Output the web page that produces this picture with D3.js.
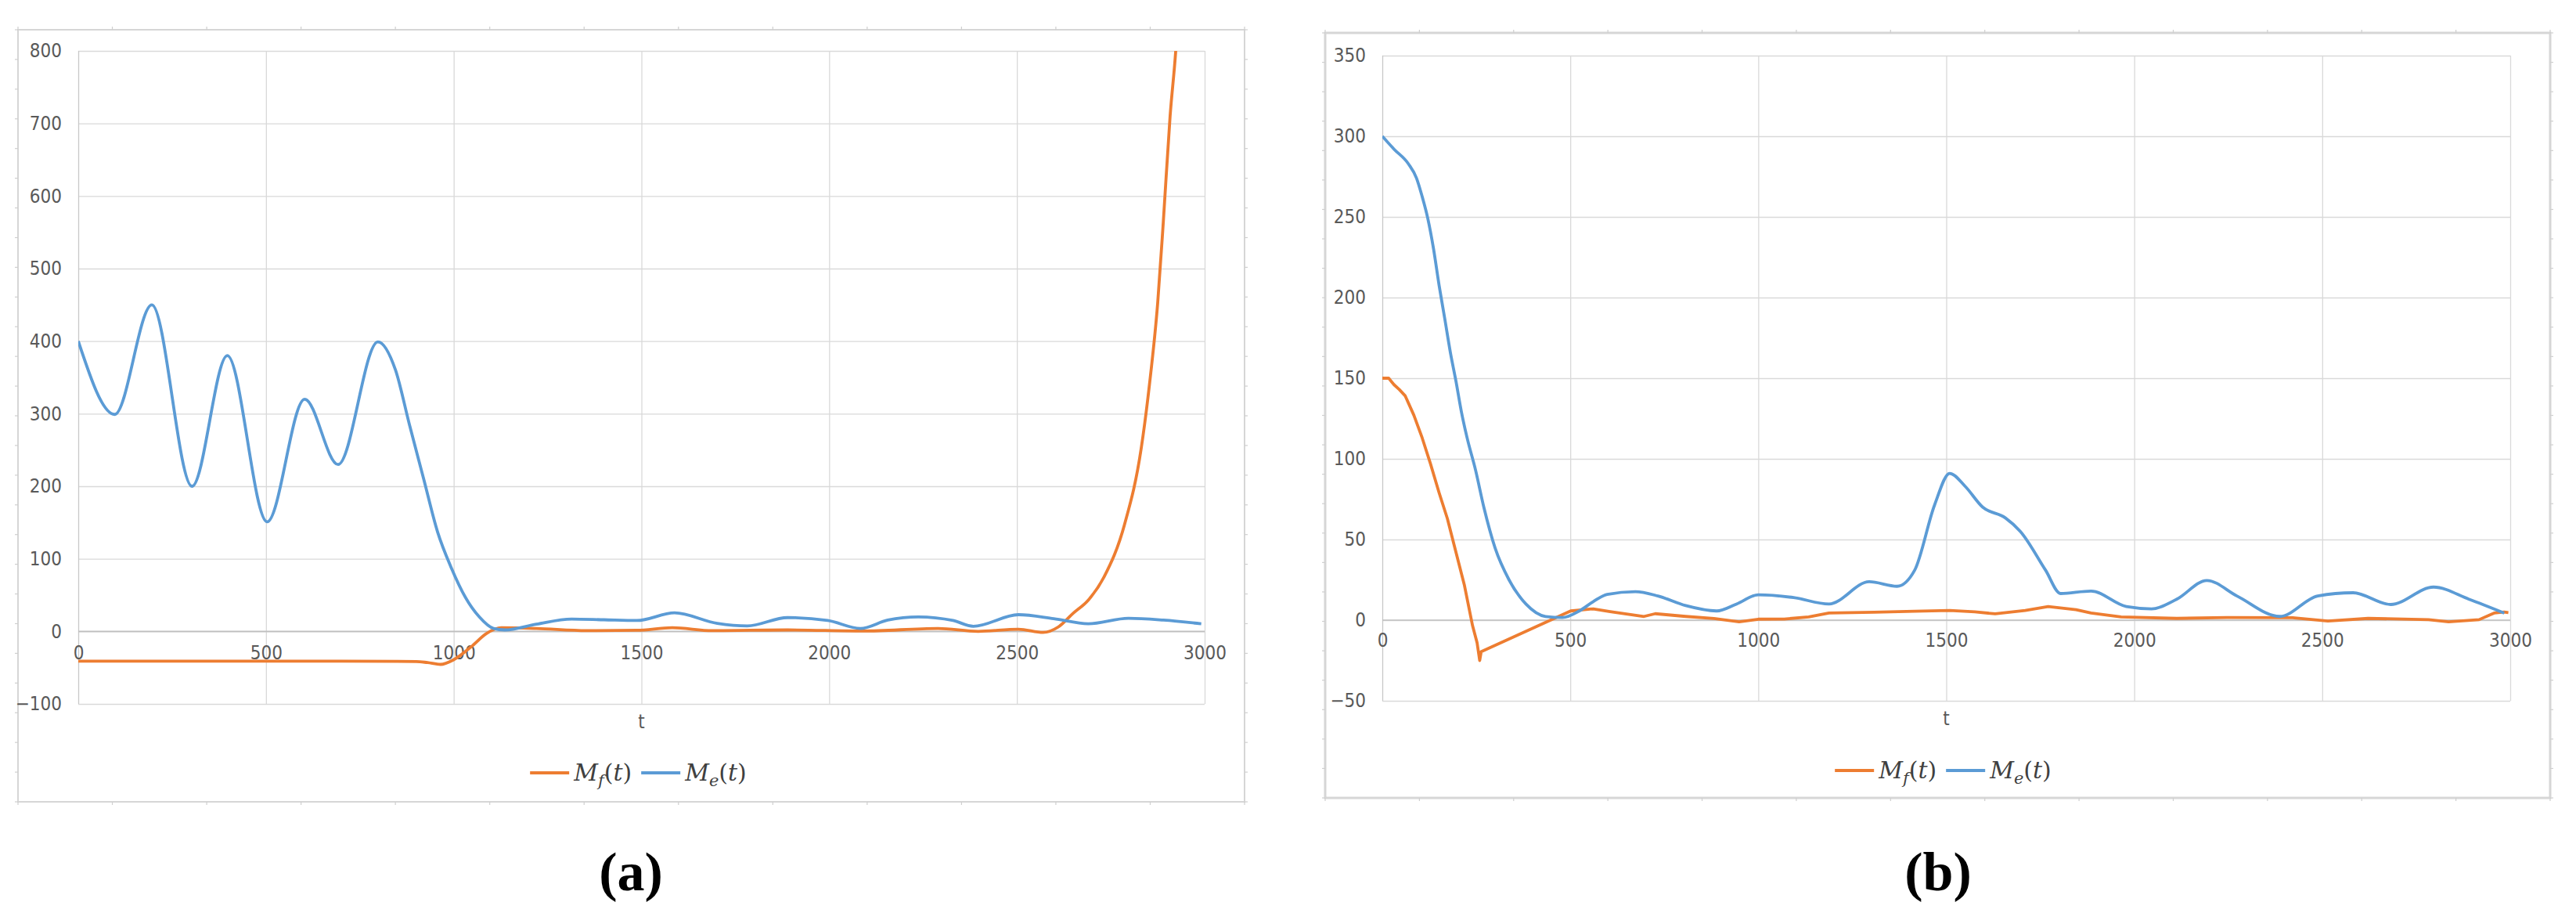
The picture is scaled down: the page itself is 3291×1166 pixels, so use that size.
<!DOCTYPE html>
<html>
<head>
<meta charset="utf-8">
<script src="https://cdn.jsdelivr.net/npm/d3@7"></script>
<style>
    body { margin: 0; background: #fff; }
    .tick-lbl text { font-family: "Liberation Sans Narrow", "DejaVu Sans Condensed", "Liberation Sans", sans-serif; font-size: 24px; fill: #595959; }
    .axis-title { font-family: "Liberation Sans Narrow", "DejaVu Sans Condensed", "Liberation Sans", sans-serif; font-size: 24px; fill: #595959; }
    .legend-txt { font-family: "DejaVu Serif", serif; font-size: 30px; fill: #404040; }
    .caption { font-family: "Liberation Serif", serif; font-weight: bold; font-size: 70px; fill: #000; }
</style>
</head>
<body>
<svg id="fig" width="3291" height="1166"></svg>
<script>
// 横轴刻度
var xTicks = [0, 500, 1000, 1500, 2000, 2500, 3000];
var aYTicks = [-100, 0, 100, 200, 300, 400, 500, 600, 700, 800];
var bYTicks = [-50, 0, 50, 100, 150, 200, 250, 300, 350];

// (a) M_f(t)
var aTimeF = [0, 300, 600, 900, 930, 965, 1000, 1047, 1087, 1127, 1220, 1354, 1488, 1582, 1689, 1889, 2090, 2290, 2397, 2504, 2570, 2610, 2650, 2690, 2732, 2787, 2831, 2853, 2875, 2890, 2908, 2923, 2935];
var aMf = [-41, -41, -41, -41.5, -43, -45.5, -39, -21, -3, 5, 4, 1, 1.5, 5, 1, 2, 0.5, 4, 0, 3, -1.5, 6, 25, 43, 75, 148, 252, 340, 453, 565, 710, 800, 900];
// (a) M_e(t)
var aTimeE = [0, 97, 196, 303, 397, 503, 603, 692, 798, 845, 882, 920, 957, 994, 1031, 1068, 1106, 1136, 1220, 1314, 1400, 1488, 1588, 1702, 1782, 1889, 1996, 2083, 2156, 2237, 2330, 2384, 2504, 2598, 2690, 2797, 2890, 2991];
var aMe = [400, 299, 450, 200, 380, 151, 320, 230, 399, 360, 285, 210, 137, 87, 47, 20, 4, 2, 10, 17, 16, 15, 25.5, 11, 7.5, 19, 15, 4, 15.5, 20, 15, 7, 23, 17.5, 10.5, 18, 15.5, 10.5];

// (b) M_f(t)
var bTimeF = [0, 17, 31, 45, 61, 84, 106, 128, 151, 173, 196, 218, 240, 252, 259, 263, 501, 561, 606, 696, 726, 807, 882, 949, 1000, 1069, 1134, 1188, 1308, 1416, 1509, 1576, 1630, 1710, 1771, 1845, 1885, 1965, 2113, 2247, 2421, 2515, 2622, 2783, 2836, 2917, 2957, 2984, 2995];
var bMf = [150, 150, 146, 143, 139, 127, 113, 97, 79, 63, 42, 22, -3.4, -14, -25, -19.5, 5.7, 7, 5.3, 2.3, 4, 2.3, 1, -1, 0.6, 0.7, 2, 4.4, 4.9, 5.5, 6, 5.2, 3.9, 6, 8.4, 6.5, 4.4, 2, 1.1, 1.6, 1.5, -0.5, 1.1, 0.3, -1, 0.3, 4.4, 5, 4.7];
// (b) M_e(t)
var bTimeE = [0, 31, 69, 91, 106, 121, 136, 151, 166, 181, 196, 210, 225, 248, 270, 300, 337, 382, 434, 479, 524, 561, 598, 673, 733, 807, 889, 942, 1000, 1094, 1188, 1295, 1369, 1416, 1469, 1509, 1550, 1597, 1657, 1697, 1764, 1804, 1885, 1979, 2046, 2113, 2193, 2273, 2387, 2488, 2582, 2682, 2796, 2890, 2984];
var bMe = [300, 292, 283, 274, 262.6, 249, 230.5, 207.6, 187, 166, 148, 129.6, 113.5, 93, 70, 44.7, 25, 10, 2.3, 1.6, 5.7, 11.5, 16, 17.7, 15, 9, 5.7, 10, 15.7, 14, 10, 23.8, 21, 31, 71.5, 91, 83, 70, 63.4, 55, 31, 16.5, 18, 8.4, 7, 13, 24.6, 15, 2.3, 15, 17, 9.7, 20.5, 13, 4.4];

var ORANGE = "#ED7D31", BLUE = "#5B9BD5";

figure = {
    init: function () {
        this.svg = d3.select("#fig");
        this.drawPanel({
            id: "a",
            frame: { left: 23, top: 38, right: 1590, bottom: 1024, width: 2 },
            plot: { left: 100, top: 65, right: 1539, bottom: 899 },
            yDomain: [-100, 800], yTicks: aYTicks,
            xPad: 19, titleY: 922, legendY: 987, caption: "a", captionX: 806,
            series: [
                { t: aTimeF, v: aMf, color: ORANGE, curve: d3.curveMonotoneX },
                { t: aTimeE, v: aMe, color: BLUE, curve: d3.curveMonotoneX }
            ]
        });
        this.drawPanel({
            id: "b",
            frame: { left: 1693, top: 42, right: 3258, bottom: 1019, width: 3 },
            plot: { left: 1766, top: 71, right: 3207, bottom: 895 },
            yDomain: [-50, 350], yTicks: bYTicks,
            xPad: 17, titleY: 918, legendY: 984, caption: "b", captionX: 2476,
            series: [
                { t: bTimeF, v: bMf, color: ORANGE, curve: d3.curveLinear },
                { t: bTimeE, v: bMe, color: BLUE, curve: d3.curveMonotoneX }
            ]
        });
    },
    drawPanel: function (p) {
        var self = this;
        var g = self.svg.append("g").attr("class", "panel-" + p.id);
        var f = p.frame;
        var x = d3.scaleLinear().domain([0, 3000]).range([p.plot.left, p.plot.right]);
        var y = d3.scaleLinear().domain(p.yDomain).range([p.plot.bottom, p.plot.top]);
        var w = p.plot.right - p.plot.left, h = p.plot.bottom - p.plot.top;

        // 外框 + 边上的小刻度
        g.append("rect")
            .attr("x", f.left).attr("y", f.top)
            .attr("width", f.right - f.left).attr("height", f.bottom - f.top)
            .attr("fill", "none").attr("stroke", "#d6d6d6").attr("stroke-width", f.width);
        var fx = d3.scaleLinear().domain([0, 13]).range([f.left, f.right]);
        var fy = d3.scaleLinear().domain([0, 26]).range([f.top, f.bottom]);
        var marks = g.append("g").attr("stroke", "#cfcfcf").attr("stroke-width", 1.2);
        d3.range(14).forEach(function (i) {
            marks.append("line").attr("x1", fx(i)).attr("x2", fx(i)).attr("y1", f.top - 4).attr("y2", f.top);
            marks.append("line").attr("x1", fx(i)).attr("x2", fx(i)).attr("y1", f.bottom).attr("y2", f.bottom + 4);
        });
        d3.range(27).forEach(function (i) {
            marks.append("line").attr("x1", f.left - 4).attr("x2", f.left).attr("y1", fy(i)).attr("y2", fy(i));
            marks.append("line").attr("x1", f.right).attr("x2", f.right + 4).attr("y1", fy(i)).attr("y2", fy(i));
        });

        // 网格线
        var gridY = g.append("g").attr("transform", "translate(" + p.plot.left + ",0)")
            .call(d3.axisLeft(y).tickValues(p.yTicks).tickSize(-w).tickFormat(""));
        var gridX = g.append("g").attr("transform", "translate(0," + p.plot.bottom + ")")
            .call(d3.axisBottom(x).tickValues(xTicks).tickSize(-h).tickFormat(""));
        [gridY, gridX].forEach(function (ax) {
            ax.select(".domain").remove();
            ax.selectAll("line").attr("stroke", "#d9d9d9").attr("stroke-width", 1.3);
        });
        gridX.selectAll("line").filter(function (d) { return d === 0; }).attr("stroke", "#c8c8c8");

        // 0 轴线
        g.append("line")
            .attr("x1", x(0)).attr("x2", x(3000)).attr("y1", y(0)).attr("y2", y(0))
            .attr("stroke", "#bfbfbf").attr("stroke-width", 1.6);

        // 刻度文字
        var yLbl = g.append("g").attr("class", "tick-lbl").attr("transform", "translate(" + p.plot.left + ",0)")
            .call(d3.axisLeft(y).tickValues(p.yTicks).tickSize(0).tickPadding(21).tickFormat(d3.format("d")));
        var xLbl = g.append("g").attr("class", "tick-lbl").attr("transform", "translate(0," + y(0) + ")")
            .call(d3.axisBottom(x).tickValues(xTicks).tickSize(0).tickPadding(p.xPad).tickFormat(d3.format("d")));
        [yLbl, xLbl].forEach(function (ax) {
            ax.select(".domain").remove();
            ax.attr("font-family", null).attr("font-size", null);
        });

        g.append("text").attr("class", "axis-title")
            .attr("x", (p.plot.left + p.plot.right) / 2).attr("y", p.titleY)
            .attr("text-anchor", "middle").attr("dy", "0.35em").text("t");

        // 曲线
        g.append("clipPath").attr("id", "clip-" + p.id).append("rect")
            .attr("x", p.plot.left).attr("y", p.plot.top).attr("width", w).attr("height", h);
        var line = d3.line().x(function (d) { return x(d[0]); }).y(function (d) { return y(d[1]); });
        var lines = g.append("g").attr("clip-path", "url(#clip-" + p.id + ")");
        p.series.forEach(function (s) {
            lines.append("path")
                .datum(d3.zip(s.t, s.v))
                .attr("fill", "none")
                .attr("stroke", s.color)
                .attr("stroke-width", 3.8)
                .attr("stroke-linejoin", "round")
                .attr("d", line.curve(s.curve));
        });

        self.drawLegend(g, (p.plot.left + p.plot.right) / 2 - 4, p.legendY);

        g.append("text").attr("class", "caption")
            .attr("x", p.captionX).attr("y", 1137)
            .attr("text-anchor", "middle").text("(" + p.caption + ")");
    },
    drawLegend: function (g, cx, cy) {
        var lg = g.append("g");
        var items = [{ sub: "f", color: ORANGE }, { sub: "e", color: BLUE }];
        var cur = 0;
        items.forEach(function (it, i) {
            lg.append("line")
                .attr("x1", cur).attr("x2", cur + 50).attr("y1", cy).attr("y2", cy)
                .attr("stroke", it.color).attr("stroke-width", 4.2);
            var t = lg.append("text").attr("class", "legend-txt")
                .attr("x", cur + 56).attr("y", cy).attr("dy", "0.33em");
            t.append("tspan").attr("font-style", "italic").text("M");
            t.append("tspan").attr("font-style", "italic").attr("font-size", "21px").attr("dy", 7).text(it.sub);
            t.append("tspan").attr("dy", -7).text("(");
            t.append("tspan").attr("font-style", "italic").text("t");
            t.append("tspan").text(")");
            cur += 56 + t.node().getComputedTextLength() + 12;
        });
        var width = cur - 12;
        lg.attr("transform", "translate(" + (cx - width / 2) + ",0)");
    }
};

figure.init();
</script>
</body>
</html>
